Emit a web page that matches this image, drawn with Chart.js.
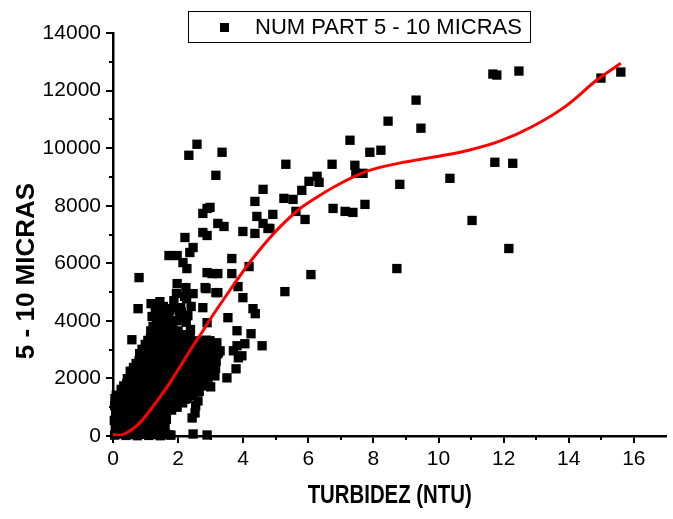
<!DOCTYPE html>
<html>
<head>
<meta charset="utf-8">
<style>
  html, body { margin: 0; padding: 0; background: #fff; }
  #grafico { display: block; }
</style>
<script src="https://cdn.jsdelivr.net/npm/chart.js@4.4.1/dist/chart.umd.min.js"></script>
</head>
<body>
<canvas id="grafico" width="673" height="519"></canvas>
<script>
const puntosDispersos = [
  [5.31,9440],[6.73,9440],[7.28,10275],[7.89,9857],[8.23,9927],[8.45,10937],[9.31,11668],[9.46,10693],
  [7.43,9404],[7.46,9125],[7.68,9125],[6.27,9021],[6.02,8847],[6.33,8812],[5.80,8533],[5.25,8255],
  [5.53,8220],[4.91,7698],[4.82,7210],[5.62,7802],[5.90,7523],[6.76,7906],[7.13,7802],[7.37,7767],
  [7.74,8046],[8.81,8742],[10.35,8951],[11.73,9509],[12.28,9474],[11.03,7488],[12.16,6513],[8.72,5817],
  [6.08,5608],[5.28,5016],[11.67,12574],[11.79,12539],[12.47,12678],[14.99,12434],[15.60,12643],
  [2.58,10135],[2.33,9752],[3.35,9857],[3.16,9056],[4.61,8568],[4.36,8150],[2.89,7906],[2.98,7941],
  [2.76,7732],[4.42,7628],[4.61,7384],[4.76,7210],[3.22,7384],[3.41,7279],[3.99,7105],[4.36,7036],
  [2.76,7070],[2.89,6966],[2.21,6896],[2.36,6374],[2.46,6548],[1.72,6269],[1.97,6269],[2.15,6025],
  [2.27,5817],[3.65,6165],[4.18,5886],[0.80,5503],[2.89,5677],[3.04,5642],[3.22,5642],[3.65,5642],
  [2.83,5155],[3.84,5190],[1.97,5294],[2.24,5155],[2.46,4946],[3.16,4981],[3.22,4981],[3.99,4807],
  [4.30,4423],[4.37,4250],[2.86,5120],[1.17,4598],[1.44,4667],[0.77,4423],[2.76,4458],[3.53,4110],
  [3.81,3657],[4.24,3553],[4.58,3135],[4.05,3205],[3.81,3135],[3.29,2960],[2.98,3309],[3.19,3239],
  [2.89,3936],[2.30,4180],[1.97,4005],[0.58,3344],[3.96,2786],[3.70,2960],[3.85,2717],[3.78,2334],
  [3.50,2020],[3.13,2090],[3.00,1707],[2.92,1742],[2.61,1219],[2.54,1045],[2.52,801],[2.43,627],
  [2.46,70],[2.89,35],[1.65,4423],[1.87,4700],[2.08,4458],[2.26,4770],[3.09,3205],[3.24,2890]
];

// Nube densa de puntos cerca del origen
const puntosDensos = [
  [0.05,30],[0.07,280],[0.04,540],[0.08,800],[0.05,1060],[0.06,1300],[0.10,1420],
  [0.14,160],[0.15,420],[0.13,680],[0.16,940],[0.14,1200],
  [0.22,60],[0.20,310],[0.24,570],[0.21,830],[0.23,1090],[0.20,1350],[0.25,1620],
  [0.31,180],[0.32,440],[0.30,700],[0.33,960],[0.31,1220],[0.32,1480],[0.33,1740],
  [0.40,20],[0.42,270],[0.38,520],[0.41,790],[0.39,1040],[0.43,1300],[0.40,1560],[0.42,1820],[0.44,1990],
  [0.49,160],[0.50,420],[0.48,680],[0.51,940],[0.49,1200],[0.50,1460],[0.51,1720],[0.52,1980],[0.53,2250],
  [0.58,50],[0.56,300],[0.60,560],[0.57,820],[0.59,1080],[0.55,1340],[0.60,1600],[0.58,1860],[0.62,2120],[0.63,2380],
  [0.67,170],[0.66,430],[0.68,690],[0.67,950],[0.66,1210],[0.68,1470],[0.67,1730],[0.69,1990],[0.70,2250],[0.71,2520],
  [0.75,10],[0.77,270],[0.73,530],[0.76,790],[0.74,1050],[0.78,1310],[0.75,1570],[0.73,1830],[0.77,2090],[0.79,2350],[0.80,2610],[0.82,2860],
  [0.84,150],[0.83,410],[0.85,670],[0.84,930],[0.83,1190],[0.85,1450],[0.84,1710],[0.86,1970],[0.85,2230],[0.87,2490],[0.88,2750],[0.89,3010],
  [0.92,60],[0.90,320],[0.94,580],[0.91,840],[0.93,1100],[0.89,1360],[0.95,1620],[0.92,1880],[0.90,2140],[0.94,2400],[0.96,2660],[0.97,2920],[0.99,3180],
  [1.01,190],[1.00,450],[1.02,710],[1.01,970],[1.00,1230],[1.02,1490],[1.01,1750],[1.03,2010],[1.02,2270],[1.04,2530],[1.05,2790],[1.06,3050],[1.07,3320],
  [1.10,20],[1.12,280],[1.08,540],[1.11,800],[1.09,1060],[1.13,1320],[1.10,1580],[1.07,1840],[1.12,2100],[1.10,2360],[1.14,2620],[1.11,2880],[1.13,3140],[1.15,3400],[1.16,3650],
  [1.19,150],[1.18,410],[1.20,670],[1.19,930],[1.18,1190],[1.20,1450],[1.19,1710],[1.21,1970],[1.20,2230],[1.22,2490],[1.21,2750],[1.23,3010],[1.22,3280],[1.24,3550],[1.23,3800],
  [1.27,50],[1.25,310],[1.29,570],[1.26,830],[1.28,1090],[1.24,1350],[1.30,1610],[1.27,1870],[1.25,2130],[1.29,2390],[1.26,2650],[1.30,2910],[1.28,3170],[1.31,3430],[1.29,3700],[1.33,3920],
  [1.36,180],[1.35,440],[1.37,700],[1.36,960],[1.35,1220],[1.37,1480],[1.36,1740],[1.38,2000],[1.37,2260],[1.39,2520],[1.38,2780],[1.40,3040],[1.39,3300],[1.41,3560],[1.40,3820],
  [1.45,10],[1.47,270],[1.43,530],[1.46,790],[1.44,1050],[1.48,1310],[1.45,1570],[1.42,1830],[1.47,2090],[1.45,2350],[1.49,2610],[1.46,2870],[1.44,3130],[1.48,3390],[1.50,3650],[1.47,3950],
  [1.54,160],[1.53,420],[1.55,680],[1.54,940],[1.53,1200],[1.55,1460],[1.54,1720],[1.56,1980],[1.55,2240],[1.57,2500],[1.56,2760],[1.58,3020],[1.57,3300],[1.59,3580],[1.58,3860],
  [1.62,60],[1.60,320],[1.64,580],[1.61,840],[1.63,1100],[1.59,1360],[1.65,1620],[1.62,1880],[1.60,2140],[1.64,2400],[1.61,2660],[1.66,2920],[1.63,3180],[1.67,3500],[1.64,3800],[1.70,4080],
  [1.71,40],[1.70,1000],[1.72,1260],[1.71,1520],[1.73,1780],[1.72,2040],[1.74,2300],[1.73,2560],[1.75,2820],[1.74,3080],[1.76,3360],[1.75,3650],[1.77,3920],
  [1.78,30],[1.80,900],[1.82,1160],[1.79,1420],[1.81,1680],[1.83,1940],[1.80,2200],[1.84,2460],[1.81,2720],[1.85,2980],[1.82,3280],[1.86,3600],[1.84,3850],
  [1.89,1100],[1.90,1360],[1.88,1620],[1.91,1880],[1.90,2140],[1.92,2400],[1.91,2660],[1.93,2920],[1.92,3200],[1.94,3500],
  [1.97,1000],[1.99,1260],[1.96,1520],[2.00,1780],[1.98,2040],[2.01,2300],[1.97,2560],[2.02,2820],[1.99,3080],[2.03,3350],[2.05,4150],
  [2.06,1250],[2.07,1510],[2.05,1770],[2.08,2030],[2.07,2290],[2.09,2550],[2.08,2810],[2.10,3070],[2.09,3350],
  [2.14,1150],[2.12,1410],[2.16,1670],[2.13,1930],[2.17,2190],[2.15,2450],[2.12,2710],[2.18,2970],[2.16,3250],[2.20,3520],
  [2.22,1280],[2.23,1540],[2.21,1800],[2.24,2060],[2.23,2320],[2.25,2580],[2.24,2840],[2.26,3100],[2.25,3380],
  [2.30,1300],[2.32,1560],[2.29,1820],[2.33,2080],[2.31,2340],[2.35,2600],[2.30,2860],[2.34,3120],[2.37,3400],
  [2.39,1400],[2.40,1660],[2.38,1920],[2.41,2180],[2.40,2440],[2.42,2700],[2.41,2960],[2.43,3220],
  [2.48,1450],[2.46,1710],[2.50,1970],[2.47,2230],[2.51,2490],[2.49,2750],[2.52,3010],[2.50,3300],
  [2.57,1600],[2.56,1860],[2.58,2120],[2.57,2380],[2.59,2640],[2.58,2900],[2.60,3160],
  [2.65,1550],[2.63,1800],[2.67,2050],[2.64,2300],[2.68,2550],[2.66,2800],[2.70,3050],[2.68,3300],
  [2.74,1800],[2.73,2060],[2.75,2320],[2.74,2580],[2.76,2840],[2.75,3100],
  [2.82,1850],[2.80,2100],[2.84,2350],[2.81,2600],[2.85,2850],[2.83,3100],[2.87,3330],
  [2.92,2050],[2.91,2300],[2.93,2560],[2.92,2820],[2.94,3080],
  [3.00,2100],[3.02,2350],[3.04,2600],[3.00,2850],[3.03,3100],
  [3.15,2350],[3.17,2600],[3.20,2850],[3.09,2480],[3.10,2740],[3.11,3000],
  [1.20,4150],[1.35,4250],[1.52,4200],[1.75,4350],[1.90,4450],[2.10,4300],[2.25,3950],[2.38,3700],
  [2.00,3650],[2.40,4500],[2.20,4850],[1.95,4950],[1.55,4500],[1.30,4450]
];

// Curva de ajuste (roja)
const curvaX = [0, 0.15, 0.3, 0.55, 0.8, 1.05, 1.3, 1.6, 1.85, 2.1, 2.45, 2.72, 3.0, 3.4, 3.6, 4.1, 4.5, 4.8, 5.1, 5.7, 6.3, 6.8, 7.8, 8.8, 9.9, 10.9, 11.9, 12.9, 13.9, 14.9, 15.6];
const curvaY = [60, 25, 50, 200, 430, 760, 1130, 1600, 2030, 2480, 3120, 3580, 4080, 4750, 5080, 5880, 6460, 6860, 7230, 7860, 8320, 8660, 9200, 9480, 9700, 9920, 10250, 10760, 11450, 12400, 12950];

const ticksMenoresX = [1, 3, 5, 7, 9, 11, 13, 15];
const ticksMenoresY = [1000, 3000, 5000, 7000, 9000, 11000, 13000];

const etiquetaSerie = "NUM PART 5 - 10 MICRAS";
const tituloX = "TURBIDEZ (NTU)";
const tituloY = "5 - 10 MICRAS";

const fuente = "'Liberation Sans', Arial, Helvetica, sans-serif";

// ticks menores (mas cortos) dibujados con las escalas del grafico
const pluginTicksMenores = {
    id: "ticksMenores",
    afterDatasetsDraw(chart) {
        const ctx = chart.ctx, sx = chart.scales.x, sy = chart.scales.y;
        ctx.save();
        ctx.strokeStyle = "#000"; ctx.lineWidth = 2;
        ctx.beginPath();
        ticksMenoresX.forEach(function(v) { const px = Math.round(sx.getPixelForValue(v)); ctx.moveTo(px, sy.bottom); ctx.lineTo(px, sy.bottom + 4); });
        ticksMenoresY.forEach(function(v) { const py = Math.round(sy.getPixelForValue(v)); ctx.moveTo(sx.left, py); ctx.lineTo(sx.left - 4, py); });
        ctx.stroke();
        ctx.restore();
    }
};

// leyenda con marco y titulos de ejes, como en el original
const pluginLeyenda = {
    id: "leyendaMarco",
    afterDraw(chart) {
        const ctx = chart.ctx, area = chart.chartArea;
        ctx.save();
        ctx.strokeStyle = "#000"; ctx.lineWidth = 1;
        ctx.strokeRect(188.5, 11.5, 342, 31);
        ctx.fillStyle = "#000";
        ctx.fillRect(220, 23, 9, 9);
        ctx.font = "22px " + fuente;
        ctx.textBaseline = "middle";
        ctx.fillText(chart.data.datasets[1].label, 255, 28);

        // titulo eje X (letra algo estrecha)
        ctx.font = "bold 25px " + fuente;
        ctx.textAlign = "center";
        ctx.save();
        ctx.translate((area.left + area.right) / 2, 496);
        ctx.scale(0.815, 1);
        ctx.fillText(tituloX, 0, 0);
        ctx.restore();

        // titulo eje Y
        ctx.font = "bold 26px " + fuente;
        ctx.save();
        ctx.translate(27, 271);
        ctx.rotate(-Math.PI / 2);
        ctx.fillText(tituloY, 0, 0);
        ctx.restore();
        ctx.restore();
    }
};

window.addEventListener("DOMContentLoaded", function() {
    const datosCurva = curvaX.map(function(x, i) { return { x: x, y: curvaY[i] }; });
    const datosPuntos = puntosDensos.concat(puntosDispersos).map(function(p) { return { x: p[0], y: p[1] }; });

    const ctx = document.getElementById("grafico").getContext("2d");
    new Chart(ctx, {
        type: "scatter",
        data: {
            datasets: [
                { type: "line", label: "Ajuste", data: datosCurva, borderColor: "#ff0000", borderWidth: 3, pointRadius: 0, fill: false, cubicInterpolationMode: "monotone", order: 0 },
                { label: etiquetaSerie, data: datosPuntos, pointStyle: "rect", pointRadius: 6.6, backgroundColor: "#000", borderColor: "#000", borderWidth: 0, clip: false, order: 1 }
            ]
        },
        options: {
            responsive: false, animation: false, devicePixelRatio: 1,
            layout: { padding: { left: 10, right: 6, top: 33, bottom: 6 } },
            plugins: { legend: { display: false }, tooltip: { enabled: false } },
            scales: {
                x: {
                    type: "linear", min: 0, max: 17,
                    border: { display: true, color: "#000", width: 2.5 },
                    grid: { display: true, drawOnChartArea: false, drawTicks: true, tickLength: 7, color: "#000", lineWidth: 2 },
                    ticks: { stepSize: 2, includeBounds: false, color: "#000", padding: 4, font: { family: fuente, size: 21 } },
                    afterFit: function(scale) { scale.height = 77; }
                },
                y: {
                    type: "linear", min: 0, max: 14000,
                    border: { display: true, color: "#000", width: 2.5 },
                    grid: { display: true, drawOnChartArea: false, drawTicks: true, tickLength: 7, color: "#000", lineWidth: 2 },
                    ticks: { stepSize: 2000, color: "#000", padding: 5, font: { family: fuente, size: 21 }, callback: function(v) { return String(v); } },
                    afterFit: function(scale) { scale.width = 103; }
                }
            }
        },
        plugins: [pluginTicksMenores, pluginLeyenda]
    });
});
</script>
</body>
</html>
